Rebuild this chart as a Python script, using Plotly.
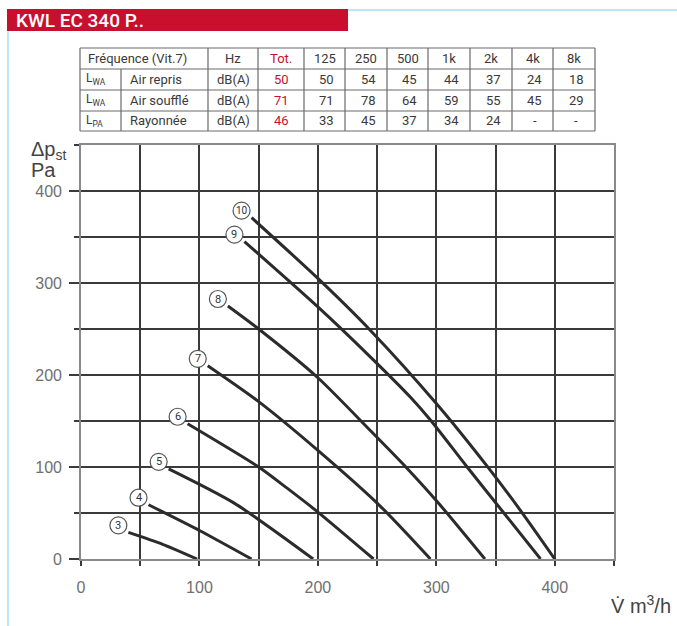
import plotly.graph_objects as go

# ---------------- data ----------------
title_text = "KWL EC 340 P.."

speeds = ["3", "4", "5", "6", "7", "8", "9", "10"]
flow_3 = [40, 69, 98]
pres_3 = [29, 16, 0]
flow_4 = [57, 100, 144]
pres_4 = [59, 31, 0]
flow_5 = [74, 129, 196]
pres_5 = [98, 61, 0]
flow_6 = [90, 150, 174, 200, 247]
pres_6 = [147, 100, 77, 51, 0]
flow_7 = [107, 150, 200, 253, 295]
pres_7 = [210, 171, 118, 57, 0]
flow_8 = [124, 150, 200, 244, 275, 301, 341]
pres_8 = [275, 250, 197, 140, 99, 62, 0]
flow_9 = [138, 200, 244, 278, 295, 326, 357, 388]
pres_9 = [345, 274, 220, 176, 151, 100, 50, 0]
flow_10 = [144, 200, 244, 300, 344, 372, 400]
pres_10 = [371, 305, 249, 169, 99, 51, 0]

flows = [flow_3, flow_4, flow_5, flow_6, flow_7, flow_8, flow_9, flow_10]
pressures = [pres_3, pres_4, pres_5, pres_6, pres_7, pres_8, pres_9, pres_10]

x_ticks = [0, 100, 200, 300, 400]
y_ticks = [0, 100, 200, 300, 400]

# table
tbl_header = ["Fréquence (Vit.7)", "Hz", "Tot.", "125", "250", "500", "1k", "2k", "4k", "8k"]
tbl_sym = ["L<sub>WA</sub>", "L<sub>WA</sub>", "L<sub>PA</sub>"]
tbl_name = ["Air repris", "Air soufflé", "Rayonnée"]
tbl_unit = ["dB(A)", "dB(A)", "dB(A)"]
tbl_tot = ["50", "71", "46"]
tbl_air_repris = ["50", "54", "45", "44", "37", "24", "18"]
tbl_air_souffle = ["71", "78", "64", "59", "55", "45", "29"]
tbl_rayonnee = ["33", "45", "37", "34", "24", "-", "-"]
tbl_rows = [tbl_air_repris, tbl_air_souffle, tbl_rayonnee]

# ---------------- layout helpers (pixel -> paper) ----------------
W, H = 677, 626
PL, PR, PT, PB = 81, 614, 145, 559
def px(x):
    return (x - PL) / (PR - PL)
def py(y):
    return (PB - y) / (PB - PT)

RED = "#c8102e"
TXT = "#3a3a3a"
GRID = "#3a3a3a"
BLUE = "#a8dcf2"
narrow = "Roboto"
sans = "Liberation Sans"

fig = go.Figure()

shapes = []
annotations = []

for lab, xs, ys in zip(speeds, flows, pressures):
    fig.add_trace(go.Scatter(
        x=xs, y=ys, mode="lines",
        line=dict(color="#2b2b2b", width=3, shape="spline", smoothing=0.7),
        hoverinfo="skip", showlegend=False))
    shapes.append(dict(type="circle", xref="x", yref="y",
                       xsizemode="pixel", ysizemode="pixel",
                       xanchor=xs[0], yanchor=ys[0],
                       x0=-18.5, x1=-1.5, y0=-1.5, y1=15.5,
                       fillcolor="white", line=dict(color="#555", width=1.2),
                       layer="above"))
    annotations.append(dict(x=xs[0], y=ys[0], xref="x", yref="y",
                            text=lab, showarrow=False, xshift=-10, yshift=7,
                            xanchor="center", yanchor="middle",
                            font=dict(family=narrow, size=10 if len(lab) > 1 else 11, color="#333")))

# ---- frame: title banner and blue lines ----
shapes.append(dict(type="rect", xref="paper", yref="paper",
                   x0=px(7), x1=px(348), y0=py(31), y1=py(9),
                   fillcolor=RED, line=dict(width=0), layer="below"))
shapes.append(dict(type="line", xref="paper", yref="paper",
                   x0=px(348), x1=px(677), y0=py(10), y1=py(10),
                   line=dict(color=BLUE, width=1.5)))
shapes.append(dict(type="line", xref="paper", yref="paper",
                   x0=px(8), x1=px(8), y0=py(31), y1=py(626),
                   line=dict(color=BLUE, width=1.5)))
annotations.append(dict(x=px(14), y=py(20), xref="paper", yref="paper",
                        text=title_text, showarrow=False, xanchor="left", yanchor="middle",
                        font=dict(family=narrow, size=19, color="white", weight=500)))

# ---- table ----
col_edges = [80, 208, 258, 304, 345, 387, 428, 470, 512, 553, 595]
row_edges = [48, 69, 90, 111, 131]
sub_split = 121
tcol = "#6a6a6a"
for r in row_edges:
    shapes.append(dict(type="line", xref="paper", yref="paper",
                       x0=px(col_edges[0]), x1=px(col_edges[-1]), y0=py(r), y1=py(r),
                       line=dict(color=tcol, width=1.2)))
for c in col_edges:
    shapes.append(dict(type="line", xref="paper", yref="paper",
                       x0=px(c), x1=px(c), y0=py(row_edges[0]), y1=py(row_edges[-1]),
                       line=dict(color=tcol, width=1.2)))
shapes.append(dict(type="line", xref="paper", yref="paper",
                   x0=px(sub_split), x1=px(sub_split), y0=py(row_edges[1]), y1=py(row_edges[-1]),
                   line=dict(color=tcol, width=1.2)))

def rc(i):
    return (row_edges[i] + row_edges[i + 1]) / 2
def cc(j):
    return (col_edges[j] + col_edges[j + 1]) / 2

tf = 13
def add_text(x, y, text, color=TXT, anchor="center", size=tf):
    annotations.append(dict(x=px(x), y=py(y), xref="paper", yref="paper", text=text,
                            showarrow=False, xanchor=anchor, yanchor="middle",
                            font=dict(family=narrow, size=size, color=color, weight=400)))

add_text(86, rc(0), tbl_header[0], anchor="left")
for j, h in enumerate(tbl_header[1:], start=1):
    add_text(cc(j), rc(0), h, color=RED if j == 2 else TXT)
for i in range(3):
    yy = rc(i + 1)
    add_text(84, yy, tbl_sym[i], anchor="left", size=12)
    add_text(128, yy, tbl_name[i], anchor="left")
    add_text(cc(1), yy, tbl_unit[i])
    add_text(cc(2), yy, tbl_tot[i], color=RED)
    for k, v in enumerate(tbl_rows[i]):
        add_text(cc(3 + k) + 2, yy, v)

# ---- axis titles ----
annotations.append(dict(x=px(29), y=py(151), xref="paper", yref="paper",
                        text="Δp<sub>st</sub>", showarrow=False, xanchor="left", yanchor="middle",
                        font=dict(family=sans, size=20, color="#444")))
annotations.append(dict(x=px(29), y=py(170), xref="paper", yref="paper",
                        text="Pa", showarrow=False, xanchor="left", yanchor="middle",
                        font=dict(family=sans, size=20, color="#444")))
annotations.append(dict(x=px(673), y=py(604), xref="paper", yref="paper",
                        text="V̇ m<sup>3</sup>/h", showarrow=False, xanchor="right", yanchor="middle",
                        font=dict(family=sans, size=20, color="#444")))

axis_common = dict(
    showgrid=True, gridcolor=GRID, gridwidth=1.7,
    zeroline=False, showline=True, linecolor="#8a8a8a", linewidth=1.6, mirror=True,
    ticks="outside", tickcolor=GRID, tickwidth=1.5,
    tickfont=dict(family=sans, size=16, color="#707070"),
    minor=dict(dtick=50, showgrid=True, gridcolor=GRID, gridwidth=1.7,
               ticks="outside", ticklen=5, tickcolor=GRID, tickwidth=1.5),
    fixedrange=True,
)

fig.update_layout(
    width=W, height=H,
    margin=dict(l=PL, r=W - PR, t=PT, b=H - PB),
    paper_bgcolor="white", plot_bgcolor="white",
    shapes=shapes, annotations=annotations,
    xaxis=dict(range=[0, 450], tickvals=x_ticks, ticklen=5, ticklabelstandoff=8, **axis_common),
    yaxis=dict(range=[0, 450], tickvals=y_ticks, ticklen=10, ticklabelstandoff=4, **axis_common),
    showlegend=False,
)

fig.write_html("out.html", config={"displayModeBar": False},
               post_script="document.body.style.margin='0px';")
